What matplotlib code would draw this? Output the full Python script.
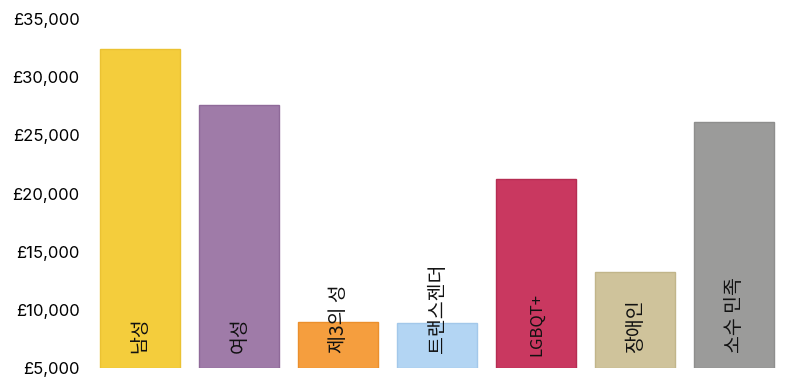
import matplotlib
matplotlib.use("Agg")
import matplotlib.pyplot as plt
from matplotlib.ticker import FuncFormatter

categories = ["남성", "여성", "제3의 성", "트랜스젠더", "LGBQT+", "장애인", "소수 민족"]
values = [32400, 27600, 8950, 8870, 21250, 13250, 26150]
colors = ["#F4CD3C", "#9F7BA8", "#F59E3E", "#B3D5F3", "#C93860", "#CFC39B", "#9B9B9A"]
edge_colors = ["#EBC232", "#8F6A99", "#EB8F2C", "#A3C8EA", "#B52D52", "#C1B58A", "#8E8E8D"]
yticks = [5000, 10000, 15000, 20000, 25000, 30000, 35000]

fig = plt.figure(figsize=(7.87, 3.78), dpi=100)
ax = fig.add_axes([0.115, 0.0265, 0.881, 0.923])

x = list(range(len(categories)))
ax.bar(x, [v - 5000 for v in values], bottom=5000, width=0.81, color=colors,
       edgecolor=edge_colors, linewidth=1)

for xi, label in zip(x, categories):
    ascii_label = label.isascii()
    size = 12 if ascii_label else 14
    ypos = 6000 if ascii_label else 6300
    ax.text(xi, ypos, label, rotation=90, ha="center", va="bottom",
            fontsize=size, family=["Noto Sans CJK KR", "DejaVu Sans"], color="#111111")

ax.set_xlim(-0.5, len(categories) - 0.5)
ax.set_ylim(5000, 35000)
ax.set_yticks(yticks)
ax.yaxis.set_major_formatter(FuncFormatter(lambda v, p: f"£{int(v):,}"))
ax.set_xticks([])
ax.tick_params(axis="y", length=0, pad=8, labelsize=12)
for lbl in ax.get_yticklabels():
    lbl.set_family("Inter")
for s in ax.spines.values():
    s.set_visible(False)

fig.savefig("out.png", dpi=100)
